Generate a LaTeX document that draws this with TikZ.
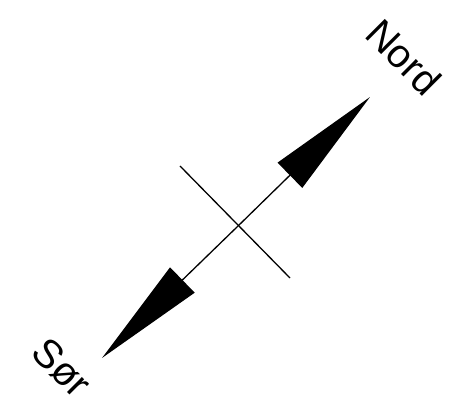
\documentclass[tikz,border=0pt]{standalone}
\usepackage{fontspec}
\setmainfont{Liberation Sans}
\usetikzlibrary{arrows.meta}
\begin{document}
\begin{tikzpicture}[x=1pt,y=-1pt,
  lbl/.style={font=\fontsize{40}{40}\selectfont, rotate=-45, inner sep=0pt},
  axis/.style={line width=1.3pt, -{Triangle[length=112pt,width=35pt]}},
  crossline/.style={line width=1.3pt}]
\useasboundingbox (0,0) rectangle (450,411);
\coordinate (c) at (237,227);
\coordinate (n) at (370,97);
\coordinate (s) at (102,358);
\coordinate (x1) at (180,166);
\coordinate (x2) at (290,278);
\draw[axis] (c) -- (n);
\draw[axis] (c) -- (s);
\draw[crossline] (x1) -- (x2);
\node[lbl] (nord) at (404,57) {Nord};
\node[lbl] (sor) at (62,368) {Sør};
\end{tikzpicture}
\end{document}
